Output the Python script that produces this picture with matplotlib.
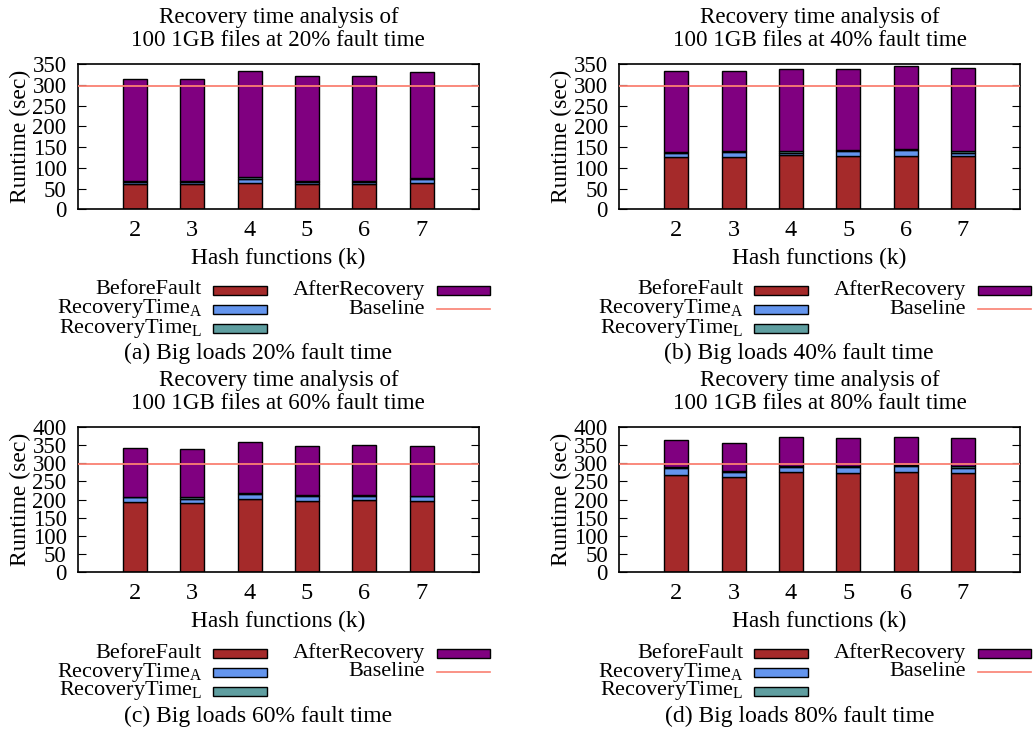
import matplotlib
matplotlib.use("Agg")
import matplotlib.pyplot as plt
from matplotlib.patches import Rectangle
from matplotlib.lines import Line2D
import numpy as np

plt.rcParams['font.family'] = ['Liberation Serif', 'DejaVu Serif']
plt.rcParams['mathtext.fontset'] = 'custom'
plt.rcParams['mathtext.rm'] = 'Liberation Serif'
plt.rcParams['mathtext.it'] = 'Liberation Serif:italic'

hash_k = [2, 3, 4, 5, 6, 7]
baseline = 297

fault_pcts = ["20%", "40%", "60%", "80%"]
panel_letters = ["a", "b", "c", "d"]

before_a = [60, 60, 64, 61, 61, 63]
recA_a = [5, 5, 9, 4, 4, 9]
recL_a = [4, 4, 4, 4, 4, 4]
after_a = [245, 246, 256, 251, 251, 255]

before_b = [126, 126, 130, 128, 128, 128]
recA_b = [9, 11, 6, 12, 14, 8]
recL_b = [4, 3, 4, 3, 4, 5]
after_b = [193, 193, 198, 195, 199, 199]

before_c = [193, 192, 201, 197, 199, 197]
recA_c = [13, 11, 15, 13, 12, 12]
recL_c = [2, 3, 2, 3, 3, 2]
after_c = [135, 133, 140, 136, 137, 137]

before_d = [267, 262, 275, 272, 275, 272]
recA_d = [19, 15, 15, 18, 18, 16]
recL_d = [3, 3, 4, 4, 3, 4]
after_d = [74, 75, 78, 76, 77, 78]

panels = [
    (before_a, recA_a, recL_a, after_a, 350),
    (before_b, recA_b, recL_b, after_b, 350),
    (before_c, recA_c, recL_c, after_c, 400),
    (before_d, recA_d, recL_d, after_d, 400),
]

series_names = ["BeforeFault", r"RecoveryTime$_\mathrm{A}$", r"RecoveryTime$_\mathrm{L}$", "AfterRecovery"]
series_colors = ["#A52A2A", "#6495ED", "#5F9EA0", "#800080"]
base_color = "#FA8072"

W, H = 1034, 733
fig = plt.figure(figsize=(W / 100, H / 100), dpi=100)

def fx(x):
    return x / W

def fy(y):
    return 1 - y / H

FS_TICK = 16.5
FS_XTICK = 17.5
FS_TITLE = 16.6
FS_LAB = 16.8
FS_YLAB = 17
FS_LEG = 16
FS_CAP = 17
offsets = [(0, 0), (541.3, 0), (0, 363), (541.3, 363)]

for i, (bf, ra, rl, ar, ymax) in enumerate(panels):
    dx, dy = offsets[i]
    left, right, top, bottom = 77.7 + dx, 479 + dx, 64 + dy, 209.3 + dy
    ax = fig.add_axes([fx(left), fy(bottom), fx(right - left), (bottom - top) / H])
    x = np.array(hash_k, dtype=float)
    bottoms = np.zeros(len(x))
    for vals, col in zip([bf, ra, rl, ar], series_colors):
        ax.bar(x, vals, width=0.42, bottom=bottoms, color=col, edgecolor="black", linewidth=1.0, zorder=2)
        bottoms = bottoms + np.array(vals)
    ax.axhline(baseline, color=base_color, linewidth=1.3, zorder=3)
    ax.set_xlim(1, 8)
    ax.set_ylim(0, ymax)
    ax.set_yticks(np.arange(0, ymax + 1, 50))
    ax.set_xticks(hash_k)
    ax.tick_params(axis='y', direction='in', length=6, right=True, labelsize=FS_TICK, pad=8)
    ax.tick_params(axis='x', length=0, labelsize=FS_XTICK, pad=8)
    for s in ax.spines.values():
        s.set_linewidth(1.2)
    ax.set_xlabel("Hash functions (k)", fontsize=FS_LAB, labelpad=5)
    ax.set_ylabel("Runtime (sec)", fontsize=FS_YLAB, va='center')
    ax.yaxis.set_label_coords((20 - 77.7) / (right - left), 0.5)
    cx = (left + right) / 2
    fig.text(fx(cx), fy(17.5 + dy), "Recovery time analysis of", ha='center', va='center', fontsize=FS_TITLE)
    fig.text(fx(cx), fy(40.5 + dy), f"100 1GB files at {fault_pcts[i]} fault time", ha='center', va='center', fontsize=FS_TITLE)

    # legend
    rows = [290 + dy, 309 + dy, 328 + dy]
    entries_c1 = [(series_names[0], series_colors[0]), (series_names[1], series_colors[1]), (series_names[2], series_colors[2])]
    for (name, col), ry in zip(entries_c1, rows):
        fig.text(fx(202 + dx), fy(ry), name, ha='right', va='center', fontsize=FS_LEG)
        fig.add_artist(Rectangle((fx(213 + dx), fy(ry + 4.5)), fx(54), 9 / H, facecolor=col,
                                 edgecolor="black", linewidth=1.0, transform=fig.transFigure))
    fig.text(fx(425 + dx), fy(rows[0]), series_names[3], ha='right', va='center', fontsize=FS_LEG)
    fig.add_artist(Rectangle((fx(437 + dx), fy(rows[0] + 4.5)), fx(53), 9 / H, facecolor=series_colors[3],
                             edgecolor="black", linewidth=1.0, transform=fig.transFigure))
    fig.text(fx(425 + dx), fy(rows[1]), "Baseline", ha='right', va='center', fontsize=FS_LEG)
    fig.add_artist(Line2D([fx(437 + dx), fx(490 + dx)], [fy(rows[1]), fy(rows[1])], color=base_color,
                          linewidth=1.2, transform=fig.transFigure))
    fig.text(fx(258 + dx), fy(353 + dy), f"({panel_letters[i]}) Big loads {fault_pcts[i]} fault time",
             ha='center', va='center', fontsize=FS_CAP)

fig.savefig("out.png", dpi=100)
